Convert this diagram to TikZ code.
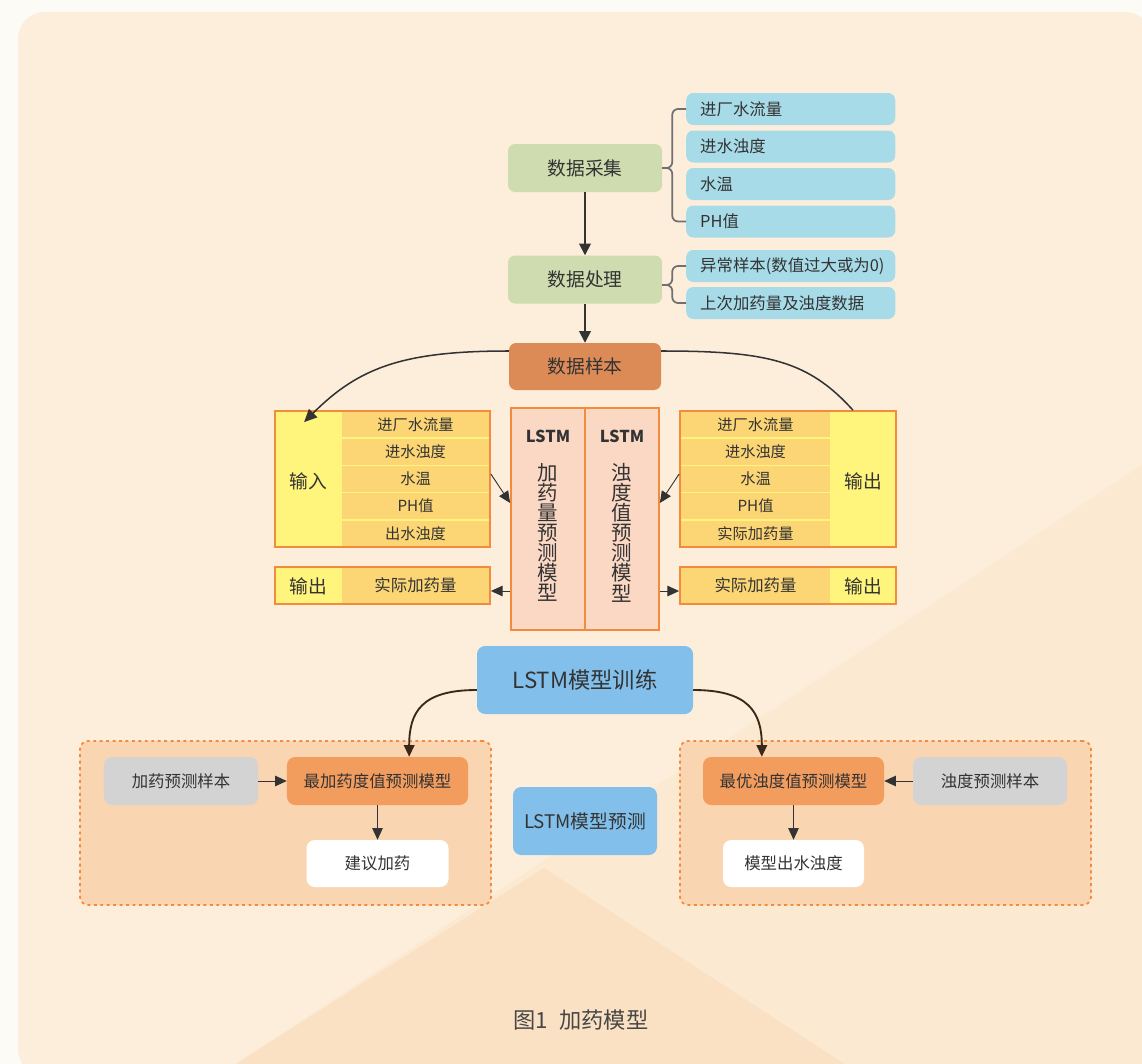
\documentclass[tikz,border=0pt]{standalone}
\usepackage{fontspec}
\setmainfont{Noto Sans CJK SC}
\definecolor{pagebg}{RGB}{253, 251, 246}
\definecolor{cardbg}{RGB}{253, 238, 220}
\definecolor{shadeA}{RGB}{252, 233, 209}
\definecolor{shadeB}{RGB}{251, 225, 196}
\definecolor{stepgreen}{RGB}{207, 220, 176}
\definecolor{itemblue}{RGB}{168, 219, 232}
\definecolor{samplebrown}{RGB}{220, 139, 87}
\definecolor{ioyellow}{RGB}{255, 245, 124}
\definecolor{cellgold}{RGB}{252, 213, 116}
\definecolor{edgeorange}{RGB}{242, 139, 60}
\definecolor{lstmpink}{RGB}{251, 216, 196}
\definecolor{skyblue}{RGB}{130, 191, 235}
\definecolor{grouppeach}{RGB}{249, 213, 177}
\definecolor{samplegray}{RGB}{211, 211, 211}
\definecolor{modelorange}{RGB}{242, 157, 94}
\definecolor{inkgray}{RGB}{51, 51, 51}
\definecolor{bracegray}{RGB}{112, 112, 112}
\definecolor{curvebrown}{RGB}{58, 40, 24}
\usetikzlibrary{arrows.meta, positioning, calc}

\begin{document}
\begin{tikzpicture}[x=0.03cm, y=-0.03cm,
  stage/.style={fill=stepgreen, rounded corners=6pt, minimum width=4.62cm, minimum height=1.44cm, font=\fontsize{16}{19}\selectfont, text=inkgray},
  item/.style={fill=itemblue, rounded corners=6pt, anchor=west, minimum height=0.96cm, text width=5.43cm, inner xsep=0.42cm, align=left, font=\fontsize{14}{17}\selectfont, text=inkgray},
  iobox/.style={draw=edgeorange, line width=1.5pt, fill=ioyellow, inner sep=0pt},
  cell/.style={fill=cellgold, minimum width=4.41cm, minimum height=0.765cm, inner sep=0pt, font=\fontsize{13}{15}\selectfont, text=inkgray},
  iolabel/.style={font=\fontsize{16}{19}\selectfont, text=inkgray},
  lstmcol/.style={draw=edgeorange, line width=1.5pt, fill=lstmpink, minimum width=2.22cm, minimum height=6.66cm, inner sep=0pt},
  lstmtag/.style={font=\bfseries\fontsize{14}{16}\selectfont, text=inkgray},
  vtext/.style={align=center, inner sep=0pt, font=\fontsize{17.5}{17.2}\selectfont, text=inkgray},
  phase/.style={fill=skyblue, rounded corners=7pt, minimum height=2.04cm, text=inkgray},
  dashgroup/.style={draw=edgeorange, fill=grouppeach, line width=1.5pt, dash pattern=on 2.5pt off 3pt, rounded corners=7pt, minimum width=12.33cm, minimum height=4.92cm},
  unitbox/.style={rounded corners=7pt, minimum height=1.44cm, font=\fontsize{14}{17}\selectfont, text=inkgray},
  arr/.style={-{Triangle[length=10pt,width=10pt]}, line width=1.5pt, draw=inkgray},
  thinarr/.style={-{Triangle[length=10pt,width=9pt]}, line width=0.8pt, draw=inkgray},
  bracket/.style={draw=bracegray, line width=1.5pt, rounded corners=5pt},
  samplecurve/.style={-{Triangle[length=11pt,width=10pt]}, line width=1.3pt, draw=inkgray},
  traincurve/.style={-{Triangle[length=10pt,width=9pt]}, line width=1.6pt, draw=curvebrown}]
  \useasboundingbox (0,0) rectangle (1142,1064);

  % background card
  \fill[pagebg] (0,0) rectangle (1142,1064);
  \begin{scope}
    \clip[rounded corners=0.8cm] (18,12) rectangle (1152,1076);
    \fill[cardbg] (0,0) rectangle (1160,1080);
    \fill[shadeA] (1142,465) -- (1160,453) -- (1160,1080) -- (224,1072) -- cycle;
    \fill[shadeB] (544,868) -- (223,1072) -- (857,1072) -- cycle;
  \end{scope}

  % data collection and processing
  \node[stage] (collect) at (585,168) {数据采集};
  \node[stage] (process) at (585,279.5) {数据处理};
  \node[stage, fill=samplebrown, minimum width=4.56cm, minimum height=1.41cm] (sample) at (585,366.5) {数据样本};
  \node[item] (flow) at (686,109) {进厂水流量};
  \node[item] (turbin) at (686,146.5) {进水浊度};
  \node[item] (temp) at (686,184) {水温};
  \node[item] (ph) at (686,221.5) {PH值};
  \node[item] (abnormal) at (686,266) {异常样本(数值过大或为0)};
  \node[item] (lastdose) at (686,303) {上次加药量及浊度数据};
  \draw[bracket] (flow.west) -| ([xshift=0.3cm]collect.east) -- (collect.east);
  \draw[bracket] (ph.west) -| ([xshift=0.3cm]collect.east) -- (collect.east);
  \draw[bracket] (abnormal.west) -| ([xshift=0.3cm, yshift=-0.165cm]process.east) -- ([yshift=-0.165cm]process.east);
  \draw[bracket] (lastdose.west) -| ([xshift=0.3cm, yshift=-0.165cm]process.east) -- ([yshift=-0.165cm]process.east);
  \draw[arr] (collect) -- (process);
  \draw[arr] (process) -- (sample);

  % input side
  \node[iobox, minimum width=6.45cm, minimum height=4.08cm] (inbox) at (382.5,479) {};
  \node[cell] (in1) at (415.5,424.6) {进厂水流量};
  \node[cell] (in2) at (415.5,451.8) {进水浊度};
  \node[cell] (in3) at (415.5,479) {水温};
  \node[cell] (in4) at (415.5,506.2) {PH值};
  \node[cell] (in5) at (415.5,533.4) {出水浊度};
  \node[iolabel] (inlabel) at (308,481) {输入};
  \node[iobox, minimum width=6.45cm, minimum height=1.11cm] (indosebox) at (382.5,585.5) {};
  \node[cell, minimum height=1.05cm, font=\fontsize{14}{17}\selectfont] (indose) at (415.5,585.5) {实际加药量};
  \node[iolabel] (indoselabel) at (308,586) {输出};

  % output side
  \node[iobox, minimum width=6.48cm, minimum height=4.08cm] (outbox) at (788,479) {};
  \node[cell, minimum width=4.47cm] (out1) at (755.5,424.6) {进厂水流量};
  \node[cell, minimum width=4.47cm] (out2) at (755.5,451.8) {进水浊度};
  \node[cell, minimum width=4.47cm] (out3) at (755.5,479) {水温};
  \node[cell, minimum width=4.47cm] (out4) at (755.5,506.2) {PH值};
  \node[cell, minimum width=4.47cm] (out5) at (755.5,533.4) {实际加药量};
  \node[iolabel] (outlabel) at (863,481) {输出};
  \node[iobox, minimum width=6.48cm, minimum height=1.11cm] (outdosebox) at (788,585.5) {};
  \node[cell, minimum width=4.47cm, minimum height=1.05cm, font=\fontsize{14}{17}\selectfont] (outdose) at (755.5,585.5) {实际加药量};
  \node[iolabel] (outdoselabel) at (863,586) {输出};

  % LSTM models
  \node[lstmcol] (lstmA) at (548,519) {};
  \node[lstmcol] (lstmB) at (622,519) {};
  \node[lstmtag] (tagA) at (548,436) {LSTM};
  \node[lstmtag] (tagB) at (622,436) {LSTM};
  \node[vtext] (nameA) at (548,532.5) {加\\药\\量\\预\\测\\模\\型};
  \node[vtext] (nameB) at (622,532.5) {浊\\度\\值\\预\\测\\模\\型};

  \draw[samplecurve] ([yshift=0.465cm]sample.west) .. controls +(-105,0) and +(55,-55) .. ([xshift=0.9cm, yshift=-0.36cm]inbox.north west);
  \draw[line width=1.3pt, draw=inkgray] ([yshift=0.465cm]sample.east) .. controls +(105,0) and +(-45,-50) .. ([xshift=-1.32cm]outbox.north east);
  \draw[thinarr] ([yshift=0.15cm]inbox.east) -- ([yshift=0.48cm]lstmA.west);
  \draw[thinarr] ([yshift=0.15cm]outbox.west) -- ([yshift=0.48cm]lstmB.east);
  \draw[thinarr] ([yshift=-2.16cm]lstmA.west) -- ([yshift=-2.16cm]lstmA.west -| indosebox.east);
  \draw[thinarr] ([yshift=-2.16cm]lstmB.east) -- ([yshift=-2.16cm]lstmB.east -| outdosebox.west);

  % training and prediction
  \node[phase, minimum width=6.48cm, font=\fontsize{19}{22}\selectfont] (train) at (585,680) {LSTM模型训练};
  \node[dashgroup] (dosegroup) at (285.5,823) {};
  \node[dashgroup] (turbgroup) at (885.5,823) {};
  \node[phase, minimum width=4.32cm, font=\fontsize{16}{19}\selectfont] (predict) at (585,821) {LSTM模型预测};

  \node[unitbox, fill=samplegray, minimum width=4.62cm] (dosesample) at (181,781) {加药预测样本};
  \node[unitbox, fill=modelorange, minimum width=5.43cm] (dosemodel) at (377.5,781) {最加药度值预测模型};
  \node[unitbox, fill=white, minimum width=4.26cm, minimum height=1.41cm] (advice) at (377.5,863.5) {建议加药};
  \node[unitbox, fill=modelorange, minimum width=5.43cm] (turbmodel) at (793.5,781) {最优浊度值预测模型};
  \node[unitbox, fill=samplegray, minimum width=4.62cm] (turbsample) at (990,781) {浊度预测样本};
  \node[unitbox, fill=white, minimum width=4.23cm, minimum height=1.41cm] (turbout) at (793.5,863.5) {模型出水浊度};

  \draw[thinarr] (dosesample) -- (dosemodel);
  \draw[thinarr] (dosemodel) -- (advice);
  \draw[thinarr] (turbsample) -- (turbmodel);
  \draw[thinarr] (turbmodel) -- (turbout);
  \draw[traincurve] ([yshift=-0.3cm]train.west) .. controls +(-55,0) and +(0,-45) .. ([xshift=0.95cm]dosemodel.north);
  \draw[traincurve] ([yshift=-0.3cm]train.east) .. controls +(55,0) and +(0,-45) .. ([xshift=-0.95cm]turbmodel.north);

  % caption
  \node[font=\fontsize{19}{22}\selectfont, text=inkgray!90] (caption) at (581,1020) {图1\hspace{0.5em}加药模型};
\end{tikzpicture}
\end{document}
